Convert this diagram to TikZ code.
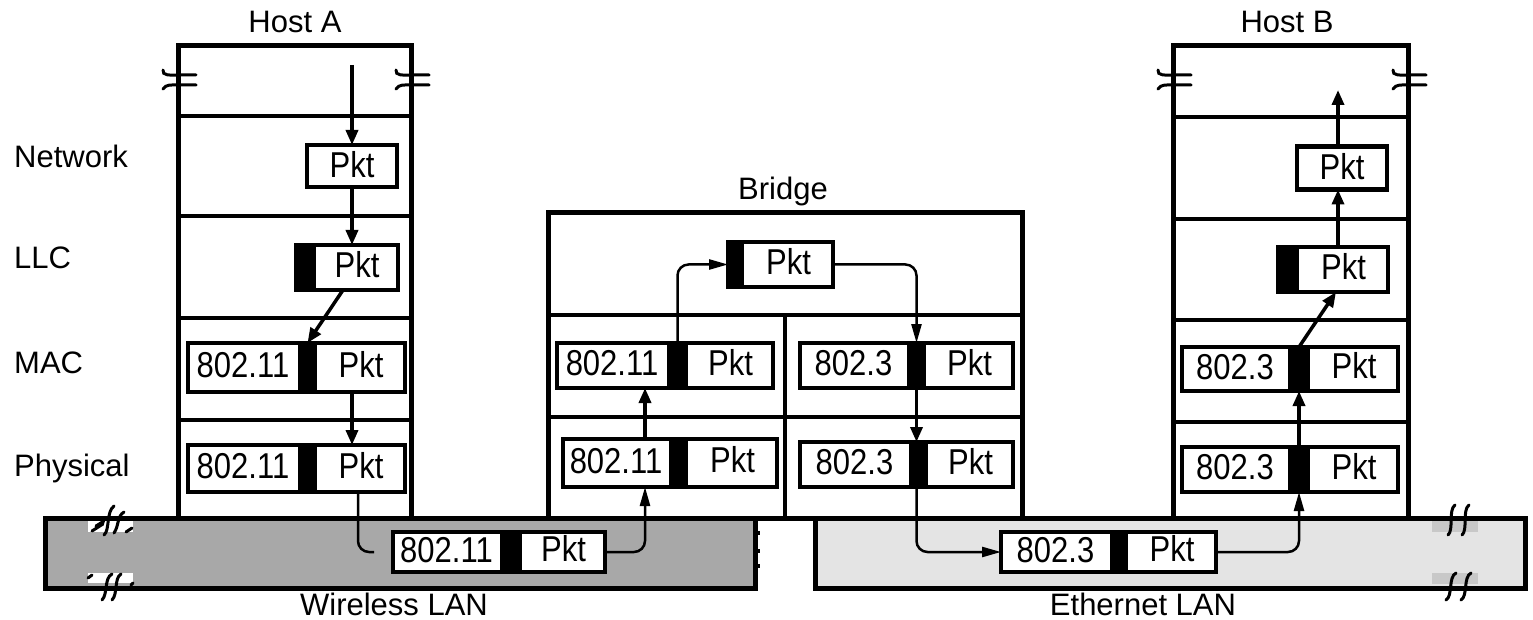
\documentclass[tikz,border=0pt]{standalone}
\usepackage{fontspec}
\setmainfont{Liberation Sans}
\usetikzlibrary{arrows.meta}
\definecolor{wlan}{RGB}{168,168,168}
\definecolor{elan}{RGB}{228,228,228}
\definecolor{epatch}{RGB}{200,200,200}
\tikzset{
  frame/.style={line width=5pt},
  divline/.style={line width=4.5pt},
  pktbox/.style={draw, line width=4.5pt, fill=white, inner sep=0pt, outer sep=0pt},
  txt/.style={font=\fontsize{31}{36}\selectfont, inner sep=0pt},
  flow/.style={line width=3.5pt, -{Triangle[length=15pt,width=12pt]}},
  link/.style={line width=2.5pt, rounded corners=11pt, -{Triangle[length=19pt,width=10pt]}},
  brk/.style={line width=3pt, line cap=round},
}
\newcommand\tall[1]{\scalebox{1}[1.16]{#1}}
% #1 name, #2 x1, #3 black start, #4 black end, #5 x2, #6 y1, #7 y2, #8 header
\newcommand\pkt[8]{%
  \node[pktbox, minimum width={(#5-#2)*1pt}, minimum height={(#7-#6)*1pt}] (#1) at ({(#2+#5)/2},{(#6+#7)/2}) {};
  \fill ({#3},{#6}) rectangle ({#4},{#7});
  \coordinate (#1-b) at ({(#3+#4)/2},{(#6+#7)/2});
  \node[txt] (#1-h) at ({(#2+#3)/2},{(#6+#7)/2-2}) {\tall{#8}};
  \node[txt] (#1-p) at ({(#4+#5)/2},{(#6+#7)/2-3}) {\tall{Pkt}};
}
\newcommand\hbrk[2]{%
  \draw[brk] ({#1-15},{#2-10}) .. controls ({#1-16},{#2-4}) and ({#1-8},{#2-5}) .. ({#1},{#2-5}) -- ({#1+18},{#2-5});
  \draw[brk] ({#1-15},{#2+9}) .. controls ({#1-12},{#2+4}) and ({#1-6},{#2+5}) .. ({#1},{#2+5}) -- ({#1+18},{#2+5});
}
\begin{document}
\begin{tikzpicture}[x=1pt,y=-1pt]
\useasboundingbox (0,0) rectangle (1533,620);

% LANs
\draw[frame, fill=wlan] (45,518) rectangle (755,588);
\draw[frame, fill=elan] (815,518) rectangle (1525,588);

% LAN break marks
\fill[white] (88,521) rectangle (133,532);
\fill[white] (88,573) rectangle (133,583);
\draw[brk] (96,526) -- (104,521);
\draw[brk] (92,531) -- (103,524);
\draw[brk] (104,535) .. controls (110,530) and (106,512) .. (114,506);
\draw[brk] (114,533) .. controls (119,526) and (117,516) .. (124,512);
\draw[brk] (126,532) -- (132,528);
\draw[brk] (88,578) -- (92,575);
\draw[brk] (102,600) .. controls (108,594) and (104,578) .. (112,574);
\draw[brk] (112,600) .. controls (118,594) and (114,578) .. (121,574);
\draw[brk] (131,585) -- (133,583);
\fill[epatch] (1432,521) rectangle (1478,532);
\fill[epatch] (1432,573) rectangle (1478,584);
\draw[brk] (1448,535) .. controls (1454,530) and (1448,510) .. (1455,505);
\draw[brk] (1462,535) .. controls (1468,530) and (1462,510) .. (1469,505);
\draw[brk] (1446,600) .. controls (1453,596) and (1448,577) .. (1456,573);
\draw[brk] (1461,600) .. controls (1468,596) and (1463,577) .. (1471,573);
\fill (758,531) rectangle (760,535);
\fill (758,549) rectangle (760,553);
\fill (758,564) rectangle (760,568);

% Host A column
\draw[frame] (178,518) -- (178,46) -- (411,46) -- (411,518);
\foreach \yy in {116,216,318,420} \draw[divline] (178,\yy) -- (411,\yy);
\hbrk{178}{80}
\hbrk{411}{80}

% Host B column
\draw[frame] (1173,518) -- (1173,46) -- (1408,46) -- (1408,518);
\foreach \yy in {117,219,320,422} \draw[divline] (1173,\yy) -- (1408,\yy);
\hbrk{1173}{80}
\hbrk{1408}{80}

% Bridge
\draw[frame] (548,213) rectangle (1022,518);
\draw[divline] (548,315) -- (1022,315);
\draw[divline] (548,417) -- (1022,417);
\draw[line width=3.5pt] (785,315) -- (785,518);

% labels
\node[txt, anchor=base] (lHA) at (295,33) {Host A};
\node[txt, anchor=base] (lHB) at (1287,33) {Host B};
\node[txt, anchor=base] (lBr) at (783,200) {Bridge};
\node[txt, anchor=base west] (lNet) at (14,168) {Network};
\node[txt, anchor=base west] (lLLC) at (14,269) {LLC};
\node[txt, anchor=base west] (lMAC) at (14,373) {MAC};
\node[txt, anchor=base west] (lPhy) at (14,476) {Physical};
\node[txt, anchor=base] (lWL) at (394,615) {Wireless LAN};
\node[txt, anchor=base] (lEL) at (1143,615) {Ethernet LAN};

% Host A packets
\node[pktbox, txt, minimum width=90pt, minimum height=42pt] (hAnet) at (352,166) {\raisebox{3pt}{\tall{Pkt}}};
\pkt{hAllc}{296}{296}{316}{398}{245}{290}{}
\pkt{hAmac}{188}{298}{317}{405}{343}{392}{802.11}
\pkt{hAphy}{188}{298}{317}{405}{445}{492}{802.11}

% Host B packets
\node[pktbox, txt, minimum width=90pt, minimum height=43pt] (hBnet) at (1342,168) {\raisebox{3pt}{\tall{Pkt}}};
\pkt{hBllc}{1278}{1278}{1299}{1388}{247}{292}{}
\pkt{hBmac}{1182}{1288}{1310}{1398}{347}{391}{802.3}
\pkt{hBphy}{1182}{1288}{1310}{1398}{447}{492}{802.3}

% Bridge packets
\pkt{brtop}{728}{728}{744}{833}{242}{287}{}
\pkt{brmac11}{557}{667}{688}{773}{343}{388}{802.11}
\pkt{brmac3}{800}{907}{926}{1013}{343}{388}{802.3}
\pkt{brphy11}{563}{669}{688}{777}{439}{487}{802.11}
\pkt{brphy3}{800}{909}{928}{1013}{442}{487}{802.3}

% LAN packets
\pkt{wl}{393}{500}{522}{605}{532}{572}{802.11}
\pkt{eth}{1001}{1110}{1128}{1216}{532}{572}{802.3}

% Host A flow
\coordinate (hAin) at (352,65);
\draw[flow] (hAin) -- (hAnet.north);
\draw[flow] (hAnet.south) -- (hAllc.north -| hAnet);
\draw[flow] ([xshift=-4pt]hAllc.south) -- (hAmac.north -| hAmac-b);
\draw[flow] (hAmac.south -| hAnet) -- (hAphy.north -| hAnet);
\coordinate (wlbend) at (358,552);
\coordinate (wlin) at (374,552);
\draw[line width=2.5pt, rounded corners=11pt] (hAphy.south -| wlbend) -- (wlbend) -- (wlin);

% Bridge flow
\coordinate (brA) at (645,0);
\draw[link] (wl.east) -- (wl.east -| brA) -- (brphy11.south -| brA);
\draw[flow] (brphy11.north -| brA) -- (brmac11.south -| brA);
\draw[link] (brmac11.north -| brmac11-b) -- (brmac11-b |- brtop.west) -- (brtop.west);
\draw[link] (brtop.east) -- (brtop.east -| brmac3-b) -- (brmac3.north -| brmac3-b);
\draw[flow] (brmac3.south -| brmac3-b) -- (brphy3.north -| brmac3-b);
\draw[link] (brphy3.south -| brmac3-b) -- (brmac3-b |- eth.west) -- (eth.west);
\draw[link] (eth.east) -- (eth.east -| hBphy-b) -- (hBphy.south -| hBphy-b);

% Host B flow
\coordinate (hBout) at (1338,90);
\draw[flow] (hBphy.north -| hBphy-b) -- (hBmac.south -| hBphy-b);
\draw[flow] (hBmac.north -| hBmac-b) -- ([xshift=3pt]hBllc.south);
\draw[flow] (hBllc.north -| hBout) -- (hBnet.south -| hBout);
\draw[flow] (hBnet.north -| hBout) -- (hBout);
\end{tikzpicture}
\end{document}
